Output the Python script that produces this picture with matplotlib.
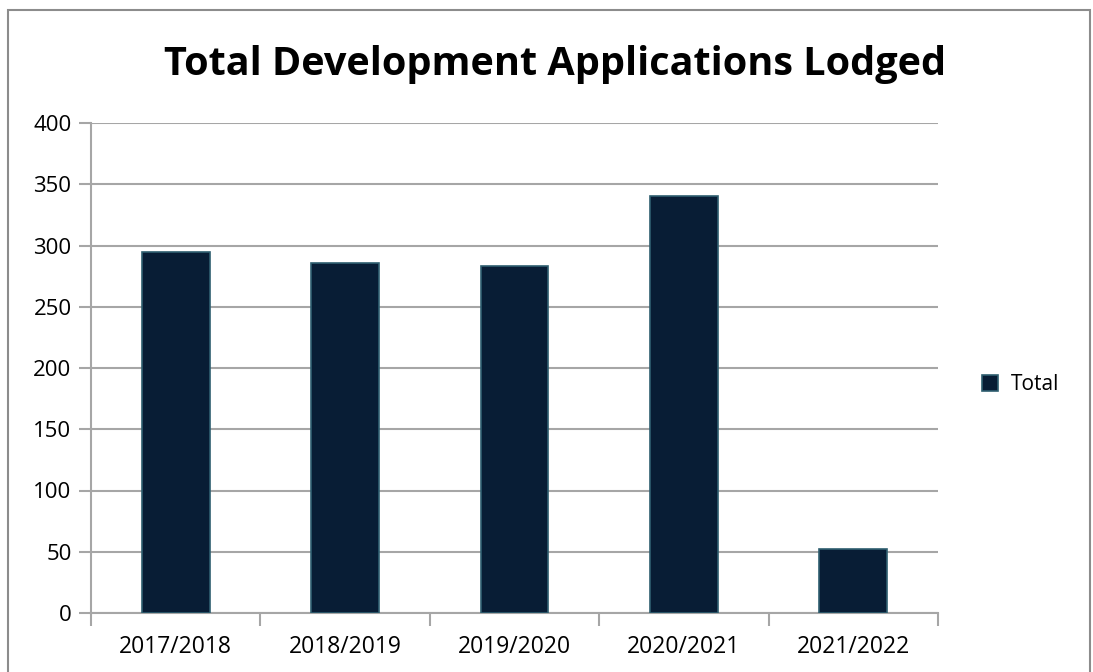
import matplotlib.pyplot as plt
from matplotlib.patches import Rectangle
import numpy as np

# Data
years = ["2017/2018", "2018/2019", "2019/2020", "2020/2021", "2021/2022"]
totals = [295, 286, 283, 340, 52]
y_ticks = [0, 50, 100, 150, 200, 250, 300, 350, 400]

plt.rcParams["font.family"] = ["Open Sans", "DejaVu Sans"]

fig = plt.figure(figsize=(10.93, 6.72), dpi=100)
ax = fig.add_axes([91 / 1093, 1 - 613 / 672, (938 - 91) / 1093, (613 - 123) / 672])

x = np.arange(len(years))
bars = ax.bar(x, totals, width=0.4, color="#081d35", edgecolor="#2f5f70",
              linewidth=1.2, label="Total", zorder=3)

ax.set_xlim(-0.5, len(years) - 0.5)
ax.set_ylim(0, 400)
ax.set_yticks(y_ticks)
ax.set_yticklabels([str(v) for v in y_ticks], fontsize=16)
ax.yaxis.grid(True, color="#a6a6a6", linewidth=1.5, zorder=0)

# category labels centred, tick marks at category boundaries
ax.set_xticks(x)
ax.set_xticklabels(years, fontsize=16.5)
ax.tick_params(axis="x", length=0, pad=16)
ax.set_xticks(np.arange(-0.5, len(years)), minor=True)
ax.tick_params(axis="x", which="minor", length=9, width=1.5, color="#a6a6a6")
ax.tick_params(axis="y", length=9, width=1.5, color="#a6a6a6", pad=5)

for side in ["top", "right"]:
    ax.spines[side].set_visible(False)
for side in ["left", "bottom"]:
    ax.spines[side].set_color("#a6a6a6")
    ax.spines[side].set_linewidth(1.5)

fig.text(555 / 1093, 1 - 64 / 672, "Total Development Applications Lodged",
         ha="center", va="center", fontsize=28.5, fontweight="bold")

leg = fig.legend(handles=[bars], labels=["Total"], loc="center left",
                 bbox_to_anchor=(963 / 1093, 1 - 385 / 672), frameon=False,
                 fontsize=15, handlelength=0.8, handleheight=0.8, handletextpad=0.6)

# outer chart border
fig.patches.append(Rectangle((8 / 1093, -0.02), (1090 - 8) / 1093, 1 - 10 / 672 + 0.02,
                             transform=fig.transFigure, fill=False,
                             edgecolor="#8c8c8c", linewidth=1.5))

fig.savefig("out.png", dpi=100)
